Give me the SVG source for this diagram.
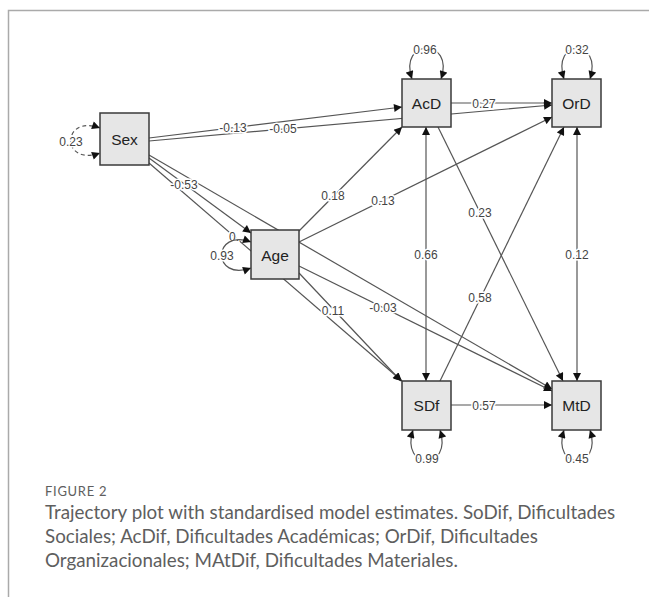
<svg xmlns="http://www.w3.org/2000/svg" width="649" height="597" viewBox="0 0 649 597">
<defs>
<style>
.e{fill:none;stroke:#555;stroke-width:1.2}
.lp{fill:none;stroke:#555;stroke-width:1.2}
.lbl{font-family:"Liberation Sans",Arial,sans-serif;font-size:12px;fill:#444;text-anchor:middle;dominant-baseline:central;stroke:#fff;stroke-width:3;paint-order:stroke}
.box{fill:#e6e6e6;stroke:#3a3a3a;stroke-width:1.5}
.nt{font-family:"Liberation Sans",Arial,sans-serif;font-size:15.5px;fill:#222;text-anchor:middle;dominant-baseline:central}
.cap{font-family:Lato,"Open Sans",sans-serif;fill:#5e5e5e}
</style>
<marker id="ah" viewBox="0 0 10 10" refX="10" refY="5" markerWidth="10" markerHeight="8" markerUnits="userSpaceOnUse" orient="auto-start-reverse">
<path d="M0,0 L10,5 L0,10 z" fill="#111"/>
</marker>
</defs>
<rect width="649" height="597" fill="#fff"/>
<path d="M8.5,597 V10.5 H649" fill="none" stroke="#aaa" stroke-width="1.5"/>

<g id="connectors">
<path class="e" d="M149,138 L402,107" marker-end="url(#ah)"/>
<path class="e" d="M149,141 L552,105" marker-end="url(#ah)"/>
<path class="e" d="M149,158 L251,233" marker-end="url(#ah)"/>
<path class="e" d="M149,163 L402,381" marker-end="url(#ah)"/>
<path class="e" d="M149,155 L552,389" marker-end="url(#ah)"/>
<path class="e" d="M299,231 L402,127" marker-end="url(#ah)"/>
<path class="e" d="M299,242 L552,117" marker-end="url(#ah)"/>
<path class="e" d="M299,273 L401,381" marker-end="url(#ah)"/>
<path class="e" d="M299,266 L552,391" marker-end="url(#ah)"/>
<path class="e" d="M451,103 L552,103" marker-end="url(#ah)"/>
<path class="e" d="M426,127 L426,381" marker-start="url(#ah)" marker-end="url(#ah)"/>
<path class="e" d="M438,127 L563,381" marker-end="url(#ah)"/>
<path class="e" d="M440,381 L564,127" marker-end="url(#ah)"/>
<path class="e" d="M451,405 L552,405" marker-end="url(#ah)"/>
<path class="e" d="M577,127 L577,381" marker-start="url(#ah)" marker-end="url(#ah)"/>

<text class="lbl" x="233" y="128">-0.13</text>
<text class="lbl" x="283" y="129">-0.05</text>
<text class="lbl" x="184" y="185">-0.53</text>
<text class="lbl" x="229" y="237" style="text-anchor:start">0.</text>
<text class="lbl" x="333" y="196">0.18</text>
<text class="lbl" x="383" y="201">0.13</text>
<text class="lbl" x="333" y="311">0.11</text>
<text class="lbl" x="383" y="308">-0.03</text>
<text class="lbl" x="484" y="104">0.27</text>
<text class="lbl" x="426" y="255">0.66</text>
<text class="lbl" x="480" y="213">0.23</text>
<text class="lbl" x="480" y="298">0.58</text>
<text class="lbl" x="484" y="406">0.57</text>
<text class="lbl" x="577" y="255">0.12</text>

<path class="lp" d="M100,128 C61,114 61,167 100,153" stroke-dasharray="4,3" marker-start="url(#ah)" marker-end="url(#ah)"/>
<path class="lp" d="M251,242 C212,228 212,282 251,268" marker-start="url(#ah)" marker-end="url(#ah)"/>
<path class="lp" d="M412,79 C398,38 455,38 441,79" marker-start="url(#ah)" marker-end="url(#ah)"/>
<path class="lp" d="M564,79 C551,38 603,38 590,79" marker-start="url(#ah)" marker-end="url(#ah)"/>
<path class="lp" d="M413,430 C400,471 453,471 440,430" marker-start="url(#ah)" marker-end="url(#ah)"/>
<path class="lp" d="M564,430 C551,471 603,471 590,430" marker-start="url(#ah)" marker-end="url(#ah)"/>
<text class="lbl" x="71" y="142">0.23</text>
<text class="lbl" x="222" y="256">0.93</text>
<text class="lbl" x="425" y="50">0.96</text>
<text class="lbl" x="577" y="50">0.32</text>
<text class="lbl" x="427" y="459">0.99</text>
<text class="lbl" x="577" y="459">0.45</text>
</g>

<g id="Sex"><rect class="box" x="100" y="113" width="49" height="52"/><text class="nt" x="124.5" y="139">Sex</text></g>
<g id="Age"><rect class="box" x="251" y="230" width="48" height="49"/><text class="nt" x="275" y="255">Age</text></g>
<g id="AcD"><rect class="box" x="402" y="79" width="49" height="48"/><text class="nt" x="426.5" y="103">AcD</text></g>
<g id="OrD"><rect class="box" x="552" y="79" width="49" height="48"/><text class="nt" x="576.5" y="103">OrD</text></g>
<g id="SDf"><rect class="box" x="402" y="381" width="49" height="49"/><text class="nt" x="426.5" y="405.5">SDf</text></g>
<g id="MtD"><rect class="box" x="552" y="381" width="49" height="49"/><text class="nt" x="576.5" y="405.5">MtD</text></g>

<g id="caption">
<text class="cap" x="45" y="496" font-size="13" letter-spacing="0.7">FIGURE 2</text>
<text class="cap" x="45" y="519" font-size="18.8">Trajectory plot with standardised model estimates. SoDif, Dificultades</text>
<text class="cap" x="45" y="543" font-size="18.8">Sociales; AcDif, Dificultades Académicas; OrDif, Dificultades</text>
<text class="cap" x="45" y="567" font-size="18.8">Organizacionales; MAtDif, Dificultades Materiales.</text>
</g>
</svg>
